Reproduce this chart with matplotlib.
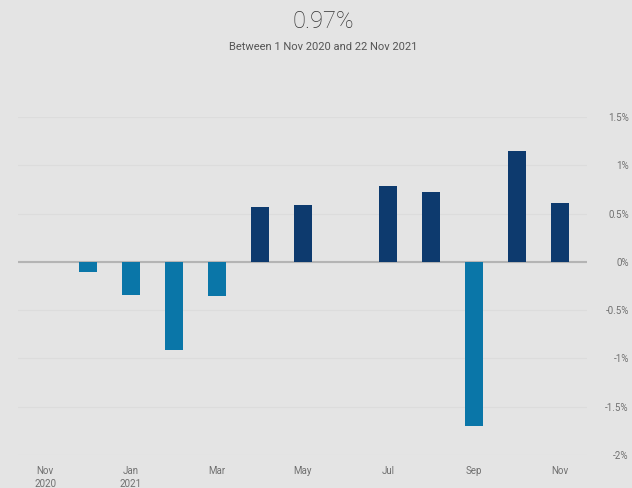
import matplotlib.pyplot as plt
import numpy as np

# Monatswerte (Nov 2020 bis Nov 2021), in Prozent
months = ['Nov 2020', 'Dec 2020', 'Jan 2021', 'Feb 2021', 'Mar 2021', 'Apr 2021', 'May 2021',
          'Jun 2021', 'Jul 2021', 'Aug 2021', 'Sep 2021', 'Oct 2021', 'Nov 2021']
values = [0.0, -0.10, -0.34, -0.91, -0.35, 0.57, 0.59, 0.0, 0.79, 0.72, -1.70, 1.15, 0.61]

tick_pos = [0, 2, 4, 6, 8, 10, 12]
tick_labels = ['Nov\n2020', 'Jan\n2021', 'Mar', 'May', 'Jul', 'Sep', 'Nov']
y_ticks = [1.5, 1, 0.5, 0, -0.5, -1, -1.5, -2]
y_labels = ['1.5%', '1%', '0.5%', '0%', '-0.5%', '-1%', '-1.5%', '-2%']

bg = '#e4e4e4'
fig = plt.figure(figsize=(6.32, 4.88), dpi=100, facecolor=bg)
ax = fig.add_axes([0.0285, 0.0676, 0.9005, 0.6926])
ax.set_facecolor(bg)

x = np.arange(len(values))
colors = ['#0d3a6e' if v > 0 else '#0a76a8' for v in values]
ax.bar(x, values, width=0.42, color=colors, zorder=3)

# Gitterlinien und Nulllinie
for yt in y_ticks:
    ax.axhline(yt, color='#dcdcdc', lw=0.8, zorder=1)
ax.axhline(0, color='#b4b4b4', lw=1.5, zorder=2)

ax.set_xlim(-0.63, 12.63)
ax.set_ylim(-2, 1.5)
ax.set_xticks(tick_pos)
ax.set_xticklabels(tick_labels, fontsize=7, color='#707070', family='Roboto', linespacing=1.3)
ax.yaxis.tick_right()
ax.set_yticks(y_ticks)
ax.set_yticklabels(y_labels, fontsize=7, color='#707070', family='Roboto')
for lab in ax.get_yticklabels():
    lab.set_horizontalalignment('right')
ax.tick_params(axis='y', length=0, pad=30)
ax.tick_params(axis='x', length=0, pad=8)
for s in ax.spines.values():
    s.set_visible(False)

fig.text(0.511, 0.955, '0.97%', ha='center', va='center', fontsize=17,
         color='#333333', family='Roboto', fontweight='light')
fig.text(0.511, 0.904, 'Between 1 Nov 2020 and 22 Nov 2021', ha='center', va='center',
         fontsize=8, color='#555555', family='Roboto')

fig.savefig('out.png', dpi=100, facecolor=bg)
